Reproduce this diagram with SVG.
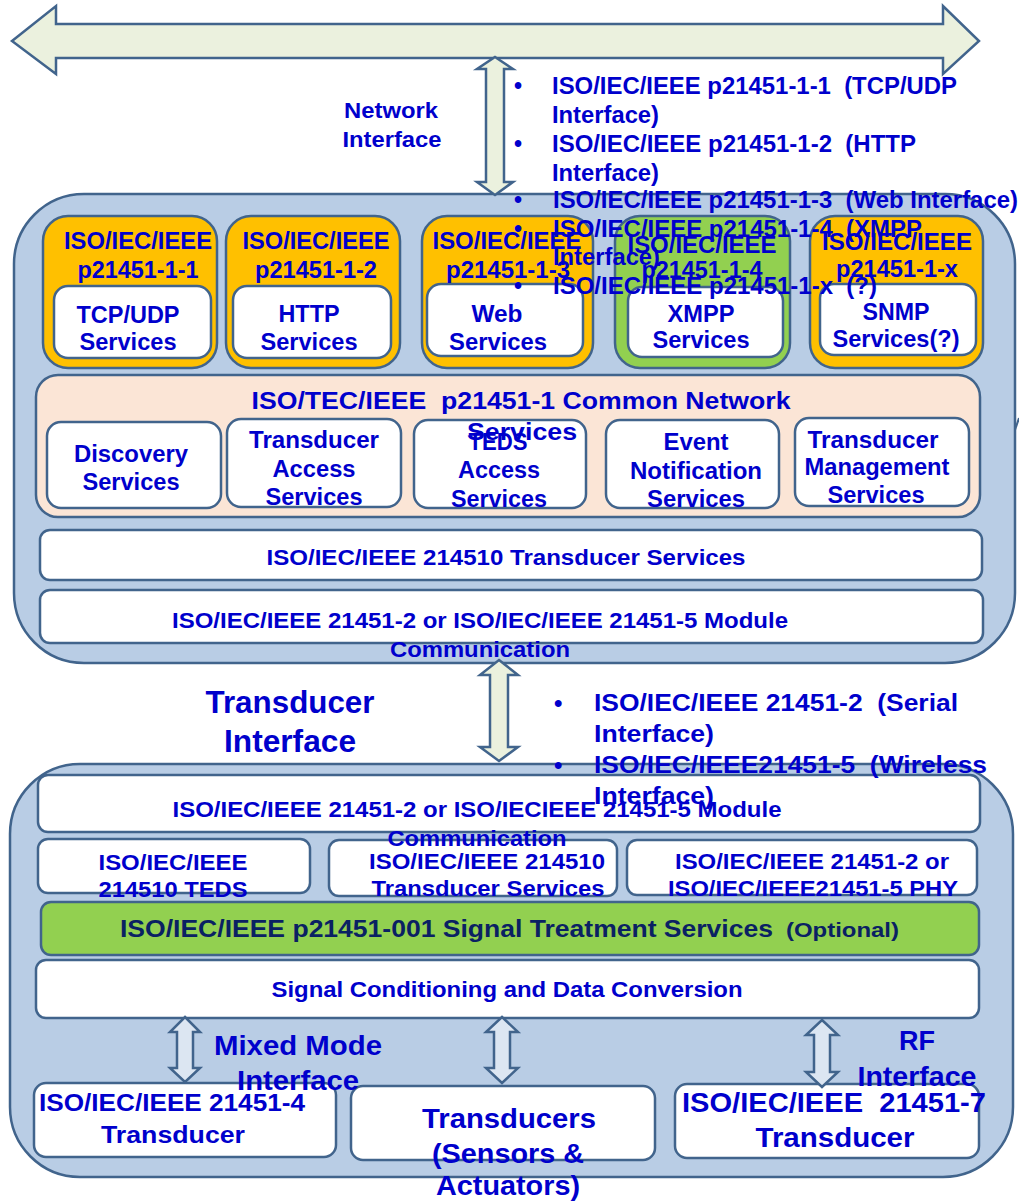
<svg xmlns="http://www.w3.org/2000/svg" width="1019" height="1201" viewBox="0 0 1019 1201">
<style>
.cont{fill:#B9CDE5;stroke:#41648C;stroke-width:2.5}
.org{fill:#FFC000;stroke:#41648C;stroke-width:2.5}
.grn{fill:#92D050;stroke:#41648C;stroke-width:2.5}
.pch{fill:#FBE5D6;stroke:#41648C;stroke-width:2.5}
.wht{fill:#FFFFFF;stroke:#41648C;stroke-width:2.5}
.arw{fill:#EBF1DE;stroke:#41648C;stroke-width:2.5;stroke-linejoin:miter}
.sarw{fill:#DCE6F2;stroke:#41648C;stroke-width:2.5}
text{font-family:"Liberation Sans",Arial,sans-serif;font-weight:bold;fill:#0000CC;font-size:23px}
.c{text-anchor:middle}
.s{font-size:22px}
.nv{fill:#0A2163}
</style>

<g id="network-bus">
<polygon class="arw" points="12,41 56,6 56,24 943,24 943,6 979,41 943,74 943,58 56,58 56,74"/>
</g>

<g id="ncap">
<rect class="cont" x="14" y="194" width="1001" height="469" rx="70"/>
<path d="M1015 430 L1019 418" stroke="#41648C" stroke-width="2" fill="none"/>
</g>

<g id="p1-1">
<rect class="org" x="43" y="216" width="174" height="152" rx="25"/>
<rect class="wht" x="54" y="286" width="157" height="72" rx="14"/>
<text class="c" x="138" y="249" textLength="148" lengthAdjust="spacingAndGlyphs">ISO/IEC/IEEE</text>
<text class="c" x="138" y="278" textLength="121" lengthAdjust="spacingAndGlyphs">p21451-1-1</text>
<text class="c" x="128" y="323" textLength="103" lengthAdjust="spacingAndGlyphs">TCP/UDP</text>
<text class="c" x="128" y="350" textLength="97" lengthAdjust="spacingAndGlyphs">Services</text>
</g>
<g id="p1-2">
<rect class="org" x="226" y="216" width="174" height="152" rx="25"/>
<rect class="wht" x="233" y="286" width="158" height="72" rx="14"/>
<text class="c" x="316" y="249" textLength="147" lengthAdjust="spacingAndGlyphs">ISO/IEC/IEEE</text>
<text class="c" x="316" y="278" textLength="122" lengthAdjust="spacingAndGlyphs">p21451-1-2</text>
<text class="c" x="309" y="322" textLength="61" lengthAdjust="spacingAndGlyphs">HTTP</text>
<text class="c" x="309" y="350" textLength="97" lengthAdjust="spacingAndGlyphs">Services</text>
</g>
<g id="p1-3">
<rect class="org" x="422" y="216" width="171" height="152" rx="25"/>
<rect class="wht" x="427" y="284" width="156" height="72" rx="14"/>
<text class="c" x="507" y="249" textLength="149" lengthAdjust="spacingAndGlyphs">ISO/IEC/IEEE</text>
<text class="c" x="508" y="278" textLength="124" lengthAdjust="spacingAndGlyphs">p21451-1-3</text>
<text class="c" x="497" y="322" textLength="51" lengthAdjust="spacingAndGlyphs">Web</text>
<text class="c" x="498" y="350" textLength="98" lengthAdjust="spacingAndGlyphs">Services</text>
</g>
<g id="p1-4">
<rect class="grn" x="615" y="216" width="175" height="152" rx="25"/>
<rect class="wht" x="628" y="287" width="155" height="70" rx="14"/>
<text class="c" x="702" y="253" textLength="149" lengthAdjust="spacingAndGlyphs">ISO/IEC/IEEE</text>
<text class="c" x="702" y="278" textLength="121" lengthAdjust="spacingAndGlyphs">p21451-1-4</text>
<text class="c" x="701" y="322" textLength="67" lengthAdjust="spacingAndGlyphs">XMPP</text>
<text class="c" x="701" y="348" textLength="97" lengthAdjust="spacingAndGlyphs">Services</text>
</g>
<g id="p1-x">
<rect class="org" x="810" y="216" width="173" height="152" rx="25"/>
<rect class="wht" x="820" y="284" width="156" height="71" rx="14"/>
<text class="c" x="897" y="250" textLength="150" lengthAdjust="spacingAndGlyphs">ISO/IEC/IEEE</text>
<text class="c" x="897" y="277" textLength="122" lengthAdjust="spacingAndGlyphs">p21451-1-x</text>
<text class="c" x="896" y="320" textLength="67" lengthAdjust="spacingAndGlyphs">SNMP</text>
<text class="c" x="896" y="347" textLength="127" lengthAdjust="spacingAndGlyphs">Services(?)</text>
</g>

<g id="common-network">
<rect class="pch" x="36" y="375" width="944" height="142" rx="22"/>
</g>
<g id="discovery">
<rect class="wht" x="47" y="422" width="174" height="86" rx="14"/>
<text class="c" x="131" y="462" textLength="114" lengthAdjust="spacingAndGlyphs">Discovery</text>
<text class="c" x="131" y="490" textLength="97" lengthAdjust="spacingAndGlyphs">Services</text>
</g>
<g id="transducer-access">
<rect class="wht" x="227" y="419" width="174" height="88" rx="14"/>
<text class="c" x="314" y="448" textLength="130" lengthAdjust="spacingAndGlyphs">Transducer</text>
<text class="c" x="314" y="477" textLength="83" lengthAdjust="spacingAndGlyphs">Access</text>
<text class="c" x="314" y="505" textLength="97" lengthAdjust="spacingAndGlyphs">Services</text>
</g>
<g id="teds-access">
<rect class="wht" x="414" y="420" width="172" height="88" rx="14"/>
<text class="c" x="498" y="450" textLength="59" lengthAdjust="spacingAndGlyphs">TEDS</text>
<text class="c" x="499" y="478" textLength="82" lengthAdjust="spacingAndGlyphs">Access</text>
<text class="c" x="499" y="507" textLength="96" lengthAdjust="spacingAndGlyphs">Services</text>
</g>
<g id="event-notification">
<rect class="wht" x="606" y="420" width="173" height="88" rx="14"/>
<text class="c" x="696" y="450" textLength="65" lengthAdjust="spacingAndGlyphs">Event</text>
<text class="c" x="696" y="479" textLength="132" lengthAdjust="spacingAndGlyphs">Notification</text>
<text class="c" x="696" y="507" textLength="98" lengthAdjust="spacingAndGlyphs">Services</text>
</g>
<g id="transducer-management">
<rect class="wht" x="795" y="418" width="174" height="88" rx="14"/>
<text class="c" x="873" y="448" textLength="131" lengthAdjust="spacingAndGlyphs">Transducer</text>
<text class="c" x="877" y="475" textLength="145" lengthAdjust="spacingAndGlyphs">Management</text>
<text class="c" x="876" y="503" textLength="97" lengthAdjust="spacingAndGlyphs">Services</text>
</g>
<g id="common-network-title">
<text class="c" x="521" y="409" textLength="539" lengthAdjust="spacingAndGlyphs" xml:space="preserve">ISO/TEC/IEEE  p21451-1 Common Network</text>
<text class="c" x="522" y="440" textLength="110" lengthAdjust="spacingAndGlyphs">Services</text>
</g>

<g id="ncap-transducer-services">
<rect class="wht" x="40" y="530" width="942" height="50" rx="10"/>
<text class="c s" x="506" y="565" textLength="479" lengthAdjust="spacingAndGlyphs">ISO/IEC/IEEE 214510 Transducer Services</text>
</g>
<g id="ncap-module-comm">
<rect class="wht" x="40" y="590" width="943" height="53" rx="10"/>
</g>

<g id="tim">
<rect class="cont" x="10" y="764" width="1003" height="413" rx="70"/>
</g>
<g id="tim-module-comm">
<rect class="wht" x="38" y="775" width="942" height="57" rx="10"/>
</g>
<g id="tim-teds">
<rect class="wht" x="38" y="839" width="272" height="54" rx="10"/>
</g>
<g id="tim-transducer-services">
<rect class="wht" x="329" y="840" width="288" height="56" rx="10"/>
</g>
<g id="tim-phy">
<rect class="wht" x="627" y="840" width="350" height="55" rx="10"/>
</g>
<g id="signal-treatment">
<rect class="grn" x="41" y="902" width="938" height="53" rx="10"/>
<text class="nv" x="120" y="937" textLength="653" lengthAdjust="spacingAndGlyphs">ISO/IEC/IEEE p21451-001 Signal Treatment Services</text>
<text class="nv" x="786" y="937" style="font-size:20px" textLength="113" lengthAdjust="spacingAndGlyphs">(Optional)</text>
</g>
<g id="signal-conditioning">
<rect class="wht" x="36" y="960" width="943" height="58" rx="10"/>
<text class="c s" x="507" y="997" textLength="471" lengthAdjust="spacingAndGlyphs">Signal Conditioning and Data Conversion</text>
</g>
<g id="xdcr-21451-4">
<rect class="wht" x="34" y="1083" width="302" height="74" rx="12"/>
</g>
<g id="xdcr-generic">
<rect class="wht" x="351" y="1086" width="304" height="74" rx="12"/>
</g>
<g id="xdcr-21451-7">
<rect class="wht" x="675" y="1084" width="304" height="74" rx="12"/>
</g>

<g id="connectors">
<polygon class="arw" points="495,57 513,69 504,69 504,182 513,182 495,195 477,182 486,182 486,69 477,69"/>
<polygon class="arw" points="499,660 518,675 508,675 508,747 518,747 499,761 480,747 490,747 490,675 480,675"/>
<polygon class="sarw" points="185,1017 200,1032 193,1032 193,1068 200,1068 185,1082 170,1068 177,1068 177,1032 170,1032"/>
<polygon class="sarw" points="502,1017 518,1032 510,1032 510,1068 518,1068 502,1083 486,1068 494,1068 494,1032 486,1032"/>
<polygon class="sarw" points="822,1020 838,1035 830,1035 830,1072 838,1072 822,1087 806,1072 814,1072 814,1035 806,1035"/>
</g>

<g id="labels">
<text class="c s" x="391" y="118" textLength="94" lengthAdjust="spacingAndGlyphs">Network</text>
<text class="c s" x="392" y="147" textLength="99" lengthAdjust="spacingAndGlyphs">Interface</text>

<text x="480" y="628" class="c s" textLength="616" lengthAdjust="spacingAndGlyphs">ISO/IEC/IEEE 21451-2 or ISO/IEC/IEEE 21451-5 Module</text>
<text x="480" y="657" class="c s" textLength="180" lengthAdjust="spacingAndGlyphs">Communication</text>

<text class="c" x="290" y="713" style="font-size:31px" textLength="169" lengthAdjust="spacingAndGlyphs">Transducer</text>
<text class="c" x="290" y="752" style="font-size:31px" textLength="132" lengthAdjust="spacingAndGlyphs">Interface</text>

<text x="477" y="817" class="c s" textLength="609" lengthAdjust="spacingAndGlyphs">ISO/IEC/IEEE 21451-2 or ISO/IECIEEE 21451-5 Module</text>
<text x="477" y="846" class="c s" textLength="179" lengthAdjust="spacingAndGlyphs">Communication</text>

<text class="c s" x="173" y="870" textLength="149" lengthAdjust="spacingAndGlyphs">ISO/IEC/IEEE</text>
<text class="c s" x="173" y="897" textLength="149" lengthAdjust="spacingAndGlyphs">214510 TEDS</text>
<text class="c s" x="487" y="869" textLength="236" lengthAdjust="spacingAndGlyphs">ISO/IEC/IEEE 214510</text>
<text class="c s" x="488" y="896" textLength="233" lengthAdjust="spacingAndGlyphs">Transducer Services</text>
<text class="c s" x="812" y="869" textLength="274" lengthAdjust="spacingAndGlyphs">ISO/IEC/IEEE 21451-2 or</text>
<text class="c s" x="813" y="896" textLength="290" lengthAdjust="spacingAndGlyphs">ISO/IEC/IEEE21451-5 PHY</text>

<text class="c" x="298" y="1055" style="font-size:27px" textLength="168" lengthAdjust="spacingAndGlyphs">Mixed Mode</text>
<text class="c" x="298" y="1090" style="font-size:27px" textLength="122" lengthAdjust="spacingAndGlyphs">Interface</text>
<text class="c" x="917" y="1050" style="font-size:27px" textLength="36" lengthAdjust="spacingAndGlyphs">RF</text>
<text class="c" x="917" y="1086" style="font-size:27px" textLength="119" lengthAdjust="spacingAndGlyphs">Interface</text>

<text class="c" x="172" y="1111" style="font-size:24px" textLength="266" lengthAdjust="spacingAndGlyphs">ISO/IEC/IEEE 21451-4</text>
<text class="c" x="173" y="1143" style="font-size:24px" textLength="144" lengthAdjust="spacingAndGlyphs">Transducer</text>
<text class="c" x="509" y="1128" style="font-size:28px" textLength="174" lengthAdjust="spacingAndGlyphs">Transducers</text>
<text class="c" x="508" y="1163" style="font-size:28px" textLength="152" lengthAdjust="spacingAndGlyphs">(Sensors &amp;</text>
<text class="c" x="508" y="1195" style="font-size:28px" textLength="144" lengthAdjust="spacingAndGlyphs">Actuators)</text>
<text class="c" x="834" y="1112" style="font-size:27px" textLength="304" lengthAdjust="spacingAndGlyphs" xml:space="preserve">ISO/IEC/IEEE  21451-7</text>
<text class="c" x="835" y="1147" style="font-size:27px" textLength="159" lengthAdjust="spacingAndGlyphs">Transducer</text>
</g>

<g id="network-bullets">
<text x="514" y="94">•</text>
<text x="552" y="94" textLength="405" lengthAdjust="spacingAndGlyphs" xml:space="preserve">ISO/IEC/IEEE p21451-1-1  (TCP/UDP</text>
<text x="552" y="123" textLength="107" lengthAdjust="spacingAndGlyphs">Interface)</text>
<text x="514" y="152">•</text>
<text x="552" y="152" textLength="364" lengthAdjust="spacingAndGlyphs" xml:space="preserve">ISO/IEC/IEEE p21451-1-2  (HTTP</text>
<text x="552" y="181" textLength="107" lengthAdjust="spacingAndGlyphs">Interface)</text>
<text x="514" y="208">•</text>
<text x="553" y="208" textLength="465" lengthAdjust="spacingAndGlyphs" xml:space="preserve">ISO/IEC/IEEE p21451-1-3  (Web Interface)</text>
<text x="514" y="237">•</text>
<text x="553" y="237" textLength="369" lengthAdjust="spacingAndGlyphs" xml:space="preserve">ISO/IEC/IEEE p21451-1-4  (XMPP</text>
<text x="553" y="265" textLength="107" lengthAdjust="spacingAndGlyphs">Interface)</text>
<text x="514" y="294">•</text>
<text x="553" y="294" textLength="324" lengthAdjust="spacingAndGlyphs" xml:space="preserve">ISO/IEC/IEEE p21451-1-x  (?)</text>
</g>

<g id="transducer-bullets">
<text x="554" y="711" style="font-size:24px">•</text>
<text x="594" y="711" style="font-size:24px" textLength="364" lengthAdjust="spacingAndGlyphs" xml:space="preserve">ISO/IEC/IEEE 21451-2  (Serial</text>
<text x="594" y="742" style="font-size:24px" textLength="120" lengthAdjust="spacingAndGlyphs">Interface)</text>
<text x="554" y="773" style="font-size:24px">•</text>
<text x="594" y="773" style="font-size:24px" textLength="393" lengthAdjust="spacingAndGlyphs" xml:space="preserve">ISO/IEC/IEEE21451-5  (Wireless</text>
<text x="594" y="804" style="font-size:24px" textLength="120" lengthAdjust="spacingAndGlyphs">Interface)</text>
</g>
</svg>
